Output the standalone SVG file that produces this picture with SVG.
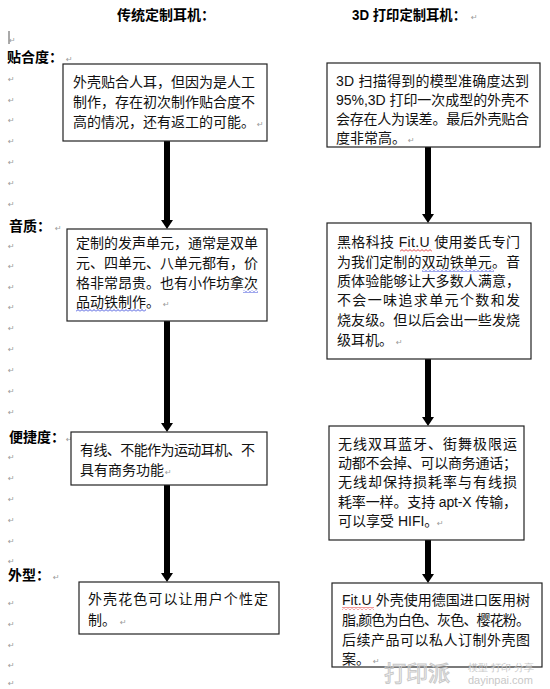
<svg xmlns="http://www.w3.org/2000/svg" width="550" height="689" viewBox="0 0 550 689">
<style>
.t{font-family:"Liberation Sans","Noto Sans CJK SC",sans-serif;font-size:14px;fill:#111}
.h{font-family:"Liberation Sans","Noto Sans CJK SC",sans-serif;font-size:14px;font-weight:bold;fill:#000}
.pm{font-family:"DejaVu Sans",sans-serif;font-size:8px;fill:#9a9a9a}
.box{fill:#fff;stroke:#222;stroke-width:1.2}
.shaft{stroke:#000;stroke-width:6}
.head{fill:#000}
.wm{font-family:"Noto Sans CJK SC",sans-serif;fill:none;stroke:#c8c8c8;stroke-width:1}
.wm2{font-family:"Liberation Sans",sans-serif;fill:#c8c8c8}
</style>
<defs>
<pattern id="waveR" width="4" height="3" patternUnits="userSpaceOnUse"><polyline points="0,2.5 2,0.5 4,2.5" fill="none" stroke="#e02020" stroke-width="0.9"/></pattern>
<pattern id="waveB" width="4" height="3" patternUnits="userSpaceOnUse"><polyline points="0,2.5 2,0.5 4,2.5" fill="none" stroke="#2a3bd8" stroke-width="0.9"/></pattern>
</defs>
<rect width="550" height="689" fill="#fff"/>

<g id="headers">
<text class="h" x="117" y="20">传统定制耳机：</text>
<text class="h" x="352" y="20" textLength="114" lengthAdjust="spacingAndGlyphs">3D 打印定制耳机：</text>
<text class="pm" x="471" y="20">↵</text>
</g>

<g id="row-labels">
<line x1="9" y1="31" x2="9" y2="44" stroke="#555" stroke-width="1"/>
<text class="pm" x="9" y="43">↵</text>
<text class="h" x="7" y="62">贴合度：</text><text class="pm" x="66" y="62">↵</text>
<text class="h" x="9" y="231">音质：</text><text class="pm" x="55" y="231">↵</text>
<text class="h" x="9" y="442">便捷度：</text><text class="pm" x="66" y="442">↵</text>
<text class="h" x="8" y="580">外型：</text><text class="pm" x="53" y="580">↵</text>
</g>

<g id="margin-marks" class="pm">
<text x="8" y="82">↵</text><text x="8" y="103">↵</text><text x="8" y="123">↵</text><text x="8" y="144">↵</text><text x="8" y="165">↵</text><text x="8" y="186">↵</text><text x="8" y="207">↵</text>
<text x="8" y="249">↵</text><text x="8" y="269">↵</text><text x="8" y="290">↵</text><text x="8" y="310">↵</text><text x="8" y="331">↵</text><text x="8" y="352">↵</text><text x="8" y="373">↵</text><text x="8" y="394">↵</text><text x="8" y="415">↵</text>
<text x="8" y="460">↵</text><text x="8" y="481">↵</text><text x="8" y="502">↵</text><text x="8" y="523">↵</text><text x="8" y="544">↵</text><text x="8" y="564">↵</text>
<text x="8" y="606">↵</text><text x="8" y="627">↵</text><text x="8" y="648">↵</text><text x="8" y="668">↵</text><text x="8" y="686">↵</text>
</g>

<g id="connectors">
<line class="shaft" x1="167" y1="141" x2="167" y2="221"/><polygon class="head" points="161,220 173,220 167,229"/>
<line class="shaft" x1="167" y1="321" x2="167" y2="424"/><polygon class="head" points="161,423 173,423 167,432"/>
<line class="shaft" x1="167" y1="485" x2="167" y2="574"/><polygon class="head" points="161,573 173,573 167,582"/>
<line class="shaft" x1="428" y1="147" x2="428" y2="215"/><polygon class="head" points="422,214 434,214 428,223"/>
<line class="shaft" x1="428" y1="359" x2="428" y2="418"/><polygon class="head" points="422,417 434,417 428,426"/>
<line class="shaft" x1="428" y1="540" x2="428" y2="575"/><polygon class="head" points="422,574 434,574 428,583"/>
</g>

<g id="trad-fit">
<rect class="box" x="63" y="64" width="204" height="77"/>
<text class="t" x="73" y="87" textLength="182" lengthAdjust="spacing">外壳贴合人耳，但因为是人工</text>
<text class="t" x="73" y="107" textLength="182" lengthAdjust="spacing">制作，存在初次制作贴合度不</text>
<text class="t" x="73" y="127">高的情况，还有返工的可能。</text>
<text class="pm" x="257" y="127">↵</text>
</g>

<g id="trad-sound">
<rect class="box" x="67" y="229" width="200" height="92"/>
<text class="t" x="76" y="248" textLength="182" lengthAdjust="spacing">定制的发声单元，通常是双单</text>
<text class="t" x="76" y="268" textLength="182" lengthAdjust="spacing">元、四单元、八单元都有，价</text>
<text class="t" x="76" y="288" textLength="182" lengthAdjust="spacing">格非常昂贵。也有小作坊拿次</text>
<text class="t" x="76" y="307">品动铁制作。</text>
<text class="pm" x="163" y="307">↵</text>
<rect x="243" y="290" width="15" height="3" fill="url(#waveB)"/>
<rect x="76" y="309" width="70" height="3" fill="url(#waveB)"/>
</g>

<g id="trad-convenience">
<rect class="box" x="71" y="432" width="196" height="53"/>
<text class="t" x="80" y="455" textLength="175" lengthAdjust="spacing">有线、不能作为运动耳机、不</text>
<text class="t" x="80" y="475">具有商务功能</text>
<text class="pm" x="165" y="475">↵</text>
</g>

<g id="trad-look">
<rect class="box" x="79" y="582" width="200" height="52"/>
<text class="t" x="88" y="604" textLength="180" lengthAdjust="spacing">外壳花色可以让用户个性定</text>
<text class="t" x="88" y="625">制。</text>
<text class="pm" x="120" y="625">↵</text>
</g>

<g id="print-fit">
<rect class="box" x="327" y="63" width="213" height="84"/>
<text class="t" x="336" y="86" textLength="193" lengthAdjust="spacing">3D 扫描得到的模型准确度达到</text>
<text class="t" x="336" y="105" textLength="193" lengthAdjust="spacing">95%,3D 打印一次成型的外壳不</text>
<text class="t" x="336" y="124" textLength="193" lengthAdjust="spacing">会存在人为误差。最后外壳贴合</text>
<text class="t" x="336" y="143">度非常高。</text>
<text class="pm" x="408" y="143">↵</text>
</g>

<g id="print-sound">
<rect class="box" x="327" y="223" width="204" height="136"/>
<text class="t" x="337" y="247" textLength="183" lengthAdjust="spacing">黑格科技  Fit.U  使用娄氏专门</text>
<text class="t" x="337" y="267" textLength="183" lengthAdjust="spacing">为我们定制的双动铁单元。音</text>
<text class="t" x="337" y="286" textLength="183" lengthAdjust="spacing">质体验能够让大多数人满意，</text>
<text class="t" x="337" y="305" textLength="183" lengthAdjust="spacing">不会一味追求单元个数和发</text>
<text class="t" x="337" y="325" textLength="183" lengthAdjust="spacing">烧友级。但以后会出一些发烧</text>
<text class="t" x="337" y="345">级耳机。</text>
<text class="pm" x="396" y="345">↵</text>
<rect x="400" y="249" width="32" height="3" fill="url(#waveR)"/>
<rect x="422" y="269" width="72" height="3" fill="url(#waveB)"/>
</g>

<g id="print-convenience">
<rect class="box" x="329" y="426" width="195" height="114"/>
<text class="t" x="338" y="449" textLength="179" lengthAdjust="spacing">无线双耳蓝牙、街舞极限运</text>
<text class="t" x="338" y="468" textLength="179" lengthAdjust="spacing">动都不会掉、可以商务通话；</text>
<text class="t" x="338" y="487" textLength="179" lengthAdjust="spacing">无线却保持损耗率与有线损</text>
<text class="t" x="338" y="507" textLength="179" lengthAdjust="spacing">耗率一样。支持 apt-X 传输，</text>
<text class="t" x="338" y="526">可以享受 HIFI。</text>
<text class="pm" x="437" y="526">↵</text>
</g>

<g id="print-look">
<rect class="box" x="332" y="583" width="210" height="84"/>
<text class="t" x="342" y="605" textLength="188" lengthAdjust="spacing">Fit.U  外壳使用德国进口医用树</text>
<text class="t" x="342" y="625" textLength="188" lengthAdjust="spacing">脂,颜色为白色、灰色、樱花粉。</text>
<text class="t" x="342" y="645" textLength="188" lengthAdjust="spacing">后续产品可以私人订制外壳图</text>
<text class="t" x="342" y="664">案。</text>
<text class="pm" x="373" y="664">↵</text>
<rect x="342" y="607" width="32" height="3" fill="url(#waveR)"/>
</g>

<g id="watermark">
<text class="wm" x="384" y="681" font-size="22">打印派</text>
<text class="wm2" x="468" y="671" font-size="10" font-family="Noto Sans CJK SC">模型 打印 分享</text>
<text class="wm2" x="468" y="684" font-size="11">dayinpai.com</text>
</g>
</svg>
